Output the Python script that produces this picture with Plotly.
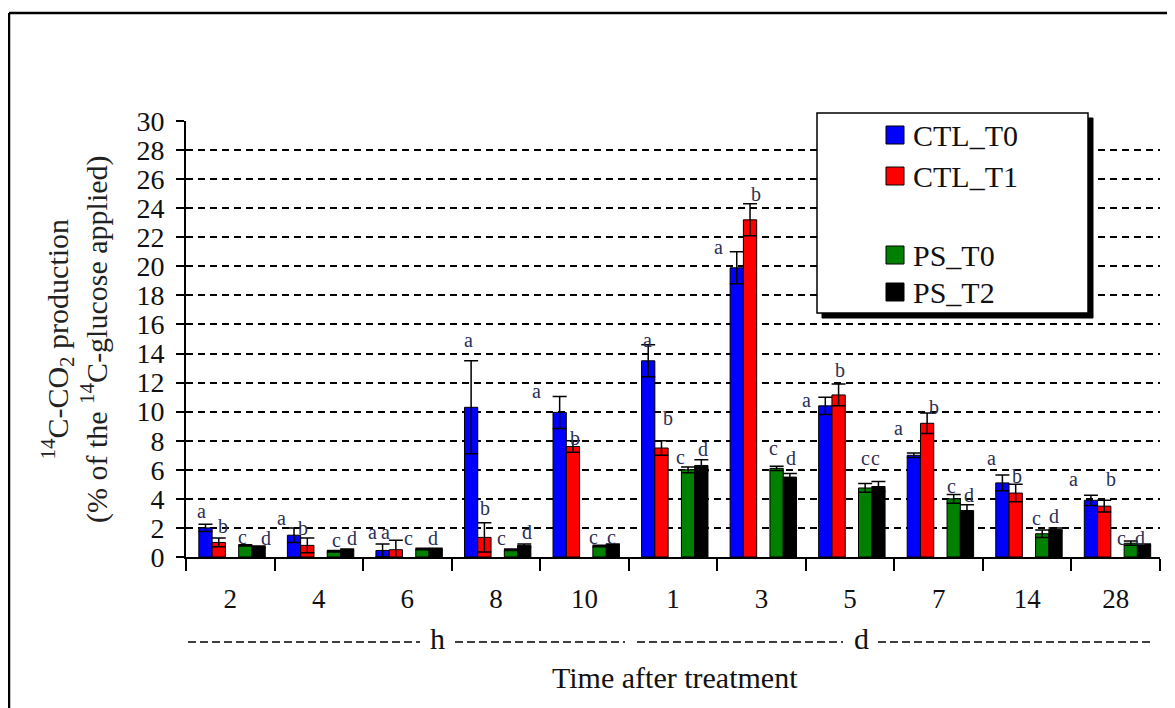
import plotly.graph_objects as go

categories = ["2", "4", "6", "8", "10", "1", "3", "5", "7", "14", "28"]
series_names = ["CTL_T0", "CTL_T1", "PS_T0", "PS_T2"]

ctl_t0 = [2.0, 1.5, 0.45, 10.3, 9.95, 13.5, 19.9, 10.4, 7.0, 5.1, 3.9]
ctl_t0_err = [0.25, 0.5, 0.45, 3.2, 1.1, 1.1, 1.1, 0.6, 0.15, 0.55, 0.35]
ctl_t1 = [1.0, 0.8, 0.5, 1.35, 7.6, 7.5, 23.2, 11.15, 9.2, 4.4, 3.5]
ctl_t1_err = [0.3, 0.5, 0.65, 1.0, 0.4, 0.5, 1.1, 0.75, 0.7, 0.6, 0.4]
ps_t0 = [0.8, 0.4, 0.55, 0.5, 0.75, 6.0, 6.1, 4.75, 4.0, 1.6, 0.95]
ps_t0_err = [0.05, 0.05, 0.05, 0.05, 0.05, 0.2, 0.15, 0.3, 0.3, 0.25, 0.15]
ps_t2 = [0.7, 0.5, 0.55, 0.8, 0.85, 6.3, 5.5, 4.85, 3.2, 1.9, 0.85]
ps_t2_err = [0.05, 0.05, 0.05, 0.1, 0.05, 0.4, 0.25, 0.35, 0.4, 0.1, 0.05]

letters_ctl_t0 = ["a"] * 11
letters_ctl_t1 = ["b", "b", "a", "b", "b", "b", "b", "b", "b", "b", "b"]
letters_ps_t0 = ["c"] * 11
letters_ps_t2 = ["d", "d", "d", "d", "c", "d", "d", "c", "d", "d", "d"]

y_ticks = list(range(0, 31, 2))

# annotation layout for significance letters (height in axis units, x shift in category units)
lab_y = [
    [3.15, 2.65, 1.75, 14.9, 11.4, 14.9, 21.3, 10.8, 8.85, 6.8, 5.4],
    [2.1, 2.0, 1.75, 3.35, 8.2, 9.57, 24.95, 12.9, 10.3, 5.6, 5.4],
    [1.4, 1.15, 1.3, 1.3, 1.35, 6.85, 7.47, 6.8, 4.87, 2.65, 1.3],
    [1.3, 1.3, 1.3, 1.75, 1.35, 7.4, 6.8, 6.8, 4.25, 2.85, 1.3],
]
lab_dx = [
    [-0.32, -0.42, -0.39, -0.31, -0.54, -0.29, -0.49, -0.49, -0.45, -0.40, -0.48],
    [-0.08, -0.18, -0.25, -0.12, -0.11, -0.06, -0.06, -0.11, -0.05, -0.12, -0.05],
    [0.14, 0.20, 0.01, 0.06, 0.10, 0.08, 0.13, 0.17, 0.14, 0.11, 0.06],
    [0.40, 0.37, 0.29, 0.35, 0.30, 0.34, 0.33, 0.29, 0.34, 0.30, 0.27],
]

values = [ctl_t0, ctl_t1, ps_t0, ps_t2]
errors = [ctl_t0_err, ctl_t1_err, ps_t0_err, ps_t2_err]
letters = [letters_ctl_t0, letters_ctl_t1, letters_ps_t0, letters_ps_t2]
colors = ["#0000FF", "#FF0000", "#008000", "#000000"]
offsets = [-0.28, -0.13, 0.17, 0.32]
bar_w = 0.15

FONT = "Liberation Serif, Times New Roman, serif"
idx = list(range(len(categories)))

fig = go.Figure()
for s in range(4):
    fig.add_trace(go.Bar(
        x=[i + offsets[s] for i in idx],
        y=values[s],
        width=bar_w,
        name=series_names[s],
        marker=dict(color=colors[s], line=dict(color="black", width=1)),
        error_y=dict(type="data", array=errors[s], visible=True,
                     color="black", thickness=1.5, width=7),
        showlegend=False,
    ))

annotations = []
for s in range(4):
    for i in idx:
        annotations.append(dict(
            x=i + lab_dx[s][i], y=lab_y[s][i], xref="x", yref="y",
            text=letters[s][i], showarrow=False, xanchor="center", yanchor="middle",
            font=dict(family=FONT, size=20, color="#2a2f55"),
        ))

# page-pixel -> paper helpers (plot area spans x 186..1160, y 121..557 on the page)
W = 974.0
H = 436.0
def px(xp):
    return (xp - 186) / W
def py(yp):
    return (557 - yp) / H

# Y-axis title
annotations.append(dict(
    x=px(75), y=0.5, xref="paper", yref="paper", textangle=-90,
    text="<sup>14</sup>C-CO<sub>2</sub> production<br>(% of the <sup>14</sup>C-glucose applied)",
    showarrow=False, font=dict(family=FONT, size=30, color="#222222"),
    xanchor="center", yanchor="middle",
))

annotations.append(dict(
    x=px(675), y=py(677), xref="paper", yref="paper",
    text="Time after treatment", showarrow=False, xanchor="center", yanchor="middle",
    font=dict(family=FONT, size=30, color="#111111"),
))
for lbl, xp in [("h", 437), ("d", 861)]:
    annotations.append(dict(x=px(xp), y=py(638), xref="paper", yref="paper", text=lbl,
                            showarrow=False, xanchor="center", yanchor="middle",
                            font=dict(family=FONT, size=30, color="#111111")))

shapes = []
for a, b in [(188, 420), (455, 625), (637, 843), (878, 1154)]:
    shapes.append(dict(type="line", xref="paper", yref="paper",
                       x0=px(a), x1=px(b), y0=py(642), y1=py(642),
                       line=dict(color="black", width=1.5, dash="8px,4px")))

# figure frame (left and top)
shapes.append(dict(type="line", xref="paper", yref="paper", x0=px(9), x1=px(1180),
                   y0=py(13), y1=py(13), line=dict(color="black", width=2.5)))
shapes.append(dict(type="line", xref="paper", yref="paper", x0=px(9), x1=px(9),
                   y0=py(13), y1=py(712), line=dict(color="black", width=2.5)))

# manual legend with drop shadow
shapes.append(dict(type="rect", xref="paper", yref="paper", x0=px(822), x1=px(1093),
                   y0=py(118), y1=py(318), fillcolor="black", line=dict(color="black", width=1)))
shapes.append(dict(type="rect", xref="paper", yref="paper", x0=px(817), x1=px(1088),
                   y0=py(113), y1=py(313), fillcolor="white", line=dict(color="black", width=1.5)))
legend_rows = [135, 176, 255, 292]
for s in range(4):
    yc = legend_rows[s]
    shapes.append(dict(type="rect", xref="paper", yref="paper",
                       x0=px(886), x1=px(904), y0=py(yc - 9), y1=py(yc + 9),
                       fillcolor=colors[s], line=dict(color="black", width=1)))
    annotations.append(dict(x=px(911), y=py(yc), xref="paper", yref="paper",
                            text=series_names[s], showarrow=False, xanchor="left",
                            yanchor="middle",
                            font=dict(family=FONT, size=30, color="#111111")))

# page has an 8px body margin, so the figure starts at page (8, 8)
fig.update_layout(
    width=1167, height=700,
    margin=dict(l=178, r=15, t=113, b=151),
    paper_bgcolor="white", plot_bgcolor="white",
    barmode="overlay",
    font=dict(family=FONT, color="#111111"),
    annotations=annotations,
    shapes=shapes,
    xaxis=dict(
        range=[-0.5, 10.5],
        tickmode="array", tickvals=idx, ticktext=categories,
        ticks="", ticklabelstandoff=17,
        tickfont=dict(family=FONT, size=27, color="#111111"),
        showgrid=False, zeroline=False,
        showline=True, linecolor="black", linewidth=2,
        minor=dict(tickmode="linear", tick0=-0.5, dtick=1, ticks="outside",
                   ticklen=12, tickwidth=1.5, tickcolor="black", showgrid=False),
    ),
    yaxis=dict(
        range=[0, 30], tickmode="array", tickvals=y_ticks,
        ticks="outside", ticklen=8, tickwidth=1.5, tickcolor="black",
        ticklabelstandoff=6,
        tickfont=dict(family=FONT, size=28, color="#111111"),
        showgrid=True, gridcolor="black", gridwidth=1.6, griddash="7px,5px",
        zeroline=False, showline=True, linecolor="black", linewidth=2,
    ),
)

fig.write_html("out.html")
